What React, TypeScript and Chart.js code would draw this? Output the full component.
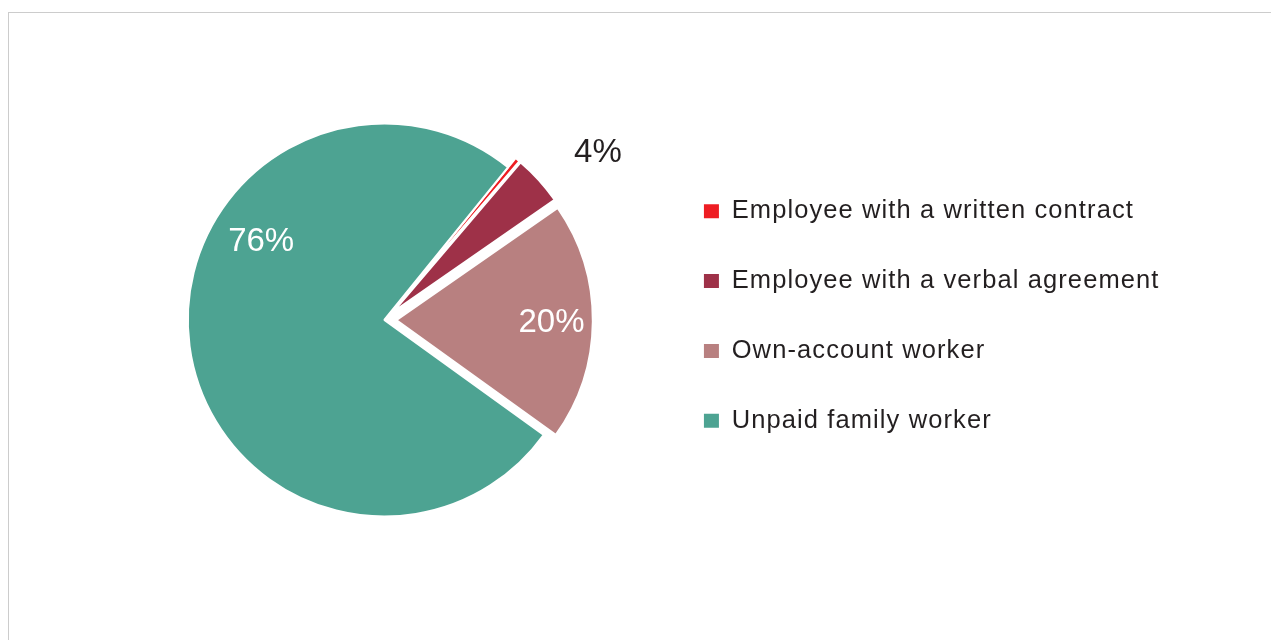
import React, { useEffect, useRef } from 'react';
import { Chart, registerables, ArcElement } from 'chart.js';

Chart.register(...registerables);

// ---- data ----
const CATEGORIES = [
  'Employee with a written contract',
  'Employee with a verbal agreement',
  'Own-account worker',
  'Unpaid family worker',
];
const SHARES = [0.4, 4.1, 19.6, 75.9];
const SLICE_COLORS = ['#EE1D23', '#9E3148', '#B88080', '#4DA392'];

// ---- styling ----
const LABEL_COLORS = ['#231F20', '#231F20', '#FFFFFF', '#FFFFFF'];
const EXPLODE_PX = [12, 12, 12, 0];
// label placement: angular shift (deg) from slice middle, radial factor of radius
const LABEL_SHIFT_DEG = [0, 4.0, 0, 40.6];
const LABEL_RADIAL = [0, 1.325, 0.79, 0.747];
const LABEL_DY = 2;
const FONT_FAMILY = '"Liberation Sans", Arial, Helvetica, sans-serif';

const explodePlugin = {
  id: 'explodeSlices',
  afterUpdate(chart: any) {
    const meta = chart.getDatasetMeta(0);
    const base = ArcElement.prototype.draw;
    meta.data.forEach((arc: any, i: number) => {
      const d = EXPLODE_PX[i] || 0;
      arc.draw = function (ctx: CanvasRenderingContext2D) {
        const mid = (this.startAngle + this.endAngle) / 2;
        ctx.save();
        ctx.translate(Math.cos(mid) * d, Math.sin(mid) * d);
        base.call(this, ctx);
        ctx.restore();
      };
    });
  },
};

const spacingPlugin = {
  id: 'legendLetterSpacing',
  beforeUpdate(chart: any) {
    chart.ctx.letterSpacing = '1.1px';
  },
  beforeDraw(chart: any) {
    chart.ctx.letterSpacing = '1.1px';
  },
};

const labelPlugin = {
  id: 'sliceLabels',
  afterDatasetsDraw(chart: any) {
    const ctx: any = chart.ctx;
    const meta = chart.getDatasetMeta(0);
    const values = chart.data.datasets[0].data as number[];
    ctx.save();
    ctx.letterSpacing = '0px';
    ctx.font = `33px ${FONT_FAMILY}`;
    ctx.textAlign = 'center';
    ctx.textBaseline = 'middle';
    meta.data.forEach((arc: any, i: number) => {
      const v = values[i];
      if (Math.round(v) < 1) return;
      const mid = (arc.startAngle + arc.endAngle) / 2;
      const d = EXPLODE_PX[i] || 0;
      const cx = arc.x + Math.cos(mid) * d;
      const cy = arc.y + Math.sin(mid) * d;
      const a = mid + (LABEL_SHIFT_DEG[i] * Math.PI) / 180;
      const r = arc.outerRadius * LABEL_RADIAL[i];
      ctx.fillStyle = LABEL_COLORS[i];
      ctx.fillText(`${Math.round(v)}%`, cx + Math.cos(a) * r, cy + Math.sin(a) * r + LABEL_DY);
    });
    ctx.restore();
  },
};

export default function App() {
  const ref = useRef<HTMLCanvasElement | null>(null);

  useEffect(() => {
    document.documentElement.style.overflow = 'hidden';
    if (!ref.current) return;
    Chart.defaults.font.family = FONT_FAMILY;
    const pieDefaults: any = (Chart as any).overrides.pie;
    const chart = new Chart(ref.current, {
      type: 'pie',
      data: {
        labels: CATEGORIES,
        datasets: [
          {
            data: SHARES,
            backgroundColor: SLICE_COLORS,
            borderColor: '#FFFFFF',
            borderWidth: 2,
            clip: false as any,
          },
        ],
      },
      options: {
        animation: false,
        responsive: true,
        maintainAspectRatio: false,
        events: [],
        rotation: 39,
        radius: 196.5,
        layout: { padding: { left: 100, right: 101.5, top: 141.25, bottom: 147.25 } },
        plugins: {
          tooltip: { enabled: false },
          legend: {
            position: 'right',
            align: 'start',
            labels: {
              boxWidth: 15,
              boxHeight: 14,
              padding: 44.3,
              color: '#231F20',
              font: { size: 25.5, family: FONT_FAMILY },
              generateLabels: (c: any) => {
                const items = pieDefaults.plugins.legend.labels.generateLabels(c);
                return items.map((it: any) => ({ ...it, lineWidth: 0, strokeStyle: 'rgba(0,0,0,0)' }));
              },
            },
          },
        },
      } as any,
      plugins: [spacingPlugin, explodePlugin, labelPlugin],
    });
    return () => chart.destroy();
  }, []);

  return (
    <div style={{ paddingTop: 4 }}>
      <div
        style={{
          borderTop: '1px solid #cccccc',
          borderLeft: '1px solid #cccccc',
          width: 1290,
          height: 640,
        }}
      >
        <div style={{ position: 'relative', width: 1262, height: 620 }}>
          <canvas ref={ref} />
        </div>
      </div>
    </div>
  );
}
